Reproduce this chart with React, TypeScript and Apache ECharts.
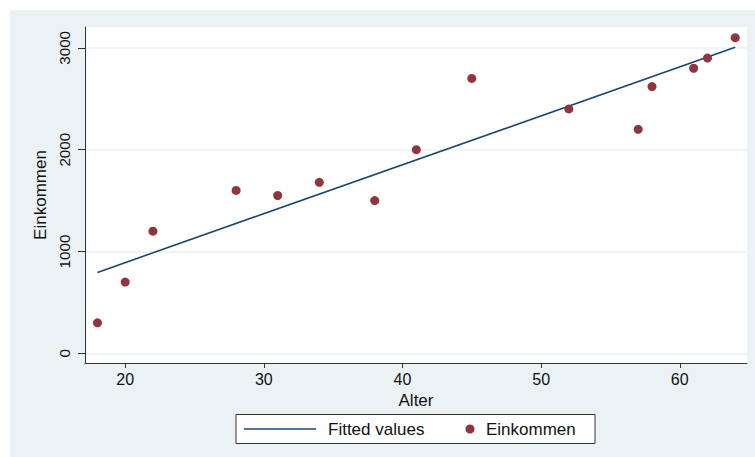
import React, { useEffect, useRef } from "react";
import * as echarts from "echarts";

const alter = [18, 20, 22, 28, 31, 34, 38, 41, 45, 52, 57, 58, 61, 62, 64];
const einkommen = [300, 700, 1200, 1600, 1550, 1680, 1500, 2000, 2700, 2400, 2200, 2620, 2800, 2900, 3100];
const fittedX = [18, 64];
const fittedY = [795, 3005];
const xTicks = [20, 30, 40, 50, 60];
const yTicks = [0, 1000, 2000, 3000];

const FONT = "'Liberation Sans', Arial, sans-serif";
const BG = "#eaf2f3";

export default function App() {
  const ref = useRef<HTMLDivElement>(null);
  useEffect(() => {
    if (!ref.current) return;
    const chart = echarts.init(ref.current, undefined, { renderer: "svg" });
    chart.setOption({
      animation: false,
      backgroundColor: BG,
      textStyle: { fontFamily: FONT },
      grid: {
        left: 75,
        right: 8,
        top: 17,
        bottom: 94,
        show: true,
        backgroundColor: "#ffffff",
        borderWidth: 0,
      },
      xAxis: {
        type: "value",
        min: 17.1,
        max: 64.85,
        name: "Alter",
        nameLocation: "middle",
        nameGap: 24,
        nameTextStyle: { color: "#111", fontSize: 17, lineHeight: 17, fontFamily: FONT },
        axisLine: { show: true, onZero: false, lineStyle: { color: "#333", width: 1 } },
        axisTick: { show: true, length: 5, customValues: xTicks, lineStyle: { color: "#333" } },
        axisLabel: { customValues: xTicks, color: "#111", fontSize: 16, margin: 8, fontFamily: FONT },
        splitLine: { show: false },
      },
      yAxis: {
        type: "value",
        min: -95,
        max: 3205,
        name: "Einkommen",
        nameLocation: "middle",
        nameRotate: 90,
        nameGap: 33,
        nameTextStyle: { color: "#111", fontSize: 17, lineHeight: 17, fontFamily: FONT },
        axisLine: { show: true, onZero: false, lineStyle: { color: "#333", width: 1 } },
        axisTick: { show: true, length: 7, customValues: yTicks, lineStyle: { color: "#333" } },
        axisLabel: {
          customValues: yTicks,
          rotate: 90,
          color: "#111",
          fontSize: 15.2,
          margin: 13,
          fontFamily: FONT,
          formatter: (v: number) => String(Math.round(v)),
        },
        splitLine: { show: true, lineStyle: { color: BG, width: 1.5 } },
      },
      legend: [
        {
          data: [{ name: "Fitted values", icon: "rect" }],
          left: 234,
          top: 410.5,
          padding: 0,
          itemWidth: 72,
          itemHeight: 1.6,
          textStyle: { color: "#111", fontSize: 17, lineHeight: 17, padding: [0, 0, 0, 7], fontFamily: FONT },
          selectedMode: false,
        },
        {
          data: ["Einkommen"],
          left: 455.5,
          top: 410.5,
          padding: 0,
          itemWidth: 9,
          itemHeight: 9,
          textStyle: { color: "#111", fontSize: 17, lineHeight: 17, padding: [0, 0, 0, 6.5], fontFamily: FONT },
          selectedMode: false,
        },
      ],
      graphic: [
        {
          type: "rect",
          shape: { x: 226, y: 404.5, width: 359, height: 29 },
          style: { fill: "#ffffff", stroke: "#333", lineWidth: 1 },
          z: -1,
        },
      ],
      series: [
        {
          name: "Fitted values",
          type: "line",
          data: fittedX.map((x, i) => [x, fittedY[i]]),
          symbol: "none",
          lineStyle: { color: "#1a476f", width: 1.6 },
          itemStyle: { color: "#1a476f" },
          z: 2,
        },
        {
          name: "Einkommen",
          type: "scatter",
          data: alter.map((x, i) => [x, einkommen[i]]),
          symbol: "circle",
          symbolSize: 9,
          itemStyle: { color: "#90353b", opacity: 1 },
          z: 3,
        },
      ],
    });
    return () => chart.dispose();
  }, []);
  return (
    <div style={{ position: "absolute", left: 0, top: 0, width: 755, height: 457, background: "#fff" }}>
      <div ref={ref} style={{ position: "absolute", left: 10, top: 10, width: 745, height: 447 }} />
    </div>
  );
}
